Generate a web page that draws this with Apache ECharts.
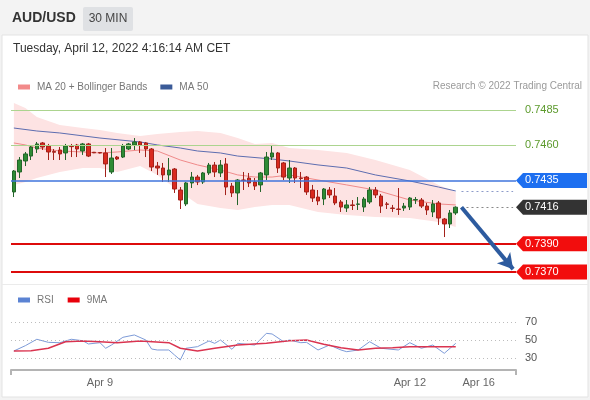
<!DOCTYPE html>
<html>
<head>
<meta charset="utf-8">
<script src="https://cdn.jsdelivr.net/npm/echarts@6/dist/echarts.min.js"></script>
<style>
  html, body { margin: 0; padding: 0; background: #f3f3f3; }
  #chart { width: 590px; height: 400px; }
</style>
</head>
<body>
<div id="chart"></div>
<script>
// 30 min candles: [open, close, low, high]
const candles = [
  [0.74268, 0.74417, 0.74232, 0.74424], [0.74410, 0.74495, 0.74367, 0.74516], [0.74488, 0.74538, 0.74452, 0.74552],
  [0.74523, 0.74587, 0.74495, 0.74601], [0.74573, 0.74609, 0.74545, 0.74623], [0.74616, 0.74587, 0.74566, 0.74623],
  [0.74594, 0.74552, 0.74495, 0.74609], [0.74556, 0.74550, 0.74495, 0.74573], [0.74566, 0.74538, 0.74495, 0.74587],
  [0.74545, 0.74594, 0.74495, 0.74609], [0.74594, 0.74590, 0.74516, 0.74609], [0.74601, 0.74573, 0.74516, 0.74609],
  [0.74559, 0.74609, 0.74531, 0.74616], [0.74609, 0.74523, 0.74516, 0.74616], [0.74550, 0.74546, 0.74544, 0.74552],
  [0.74548, 0.74545, 0.74542, 0.74550], [0.74545, 0.74467, 0.74374, 0.74580], [0.74410, 0.74509, 0.74396, 0.74580],
  [0.74516, 0.74502, 0.74495, 0.74523], [0.74516, 0.74594, 0.74509, 0.74609], [0.74573, 0.74609, 0.74566, 0.74616],
  [0.74601, 0.74623, 0.74566, 0.74651], [0.74623, 0.74601, 0.74545, 0.74630], [0.74616, 0.74573, 0.74516, 0.74623],
  [0.74573, 0.74445, 0.74417, 0.74580], [0.74452, 0.74438, 0.74389, 0.74481], [0.74438, 0.74389, 0.74339, 0.74474],
  [0.74389, 0.74424, 0.74339, 0.74509], [0.74431, 0.74289, 0.74261, 0.74438], [0.74282, 0.74211, 0.74147, 0.74303],
  [0.74183, 0.74332, 0.74168, 0.74339], [0.74332, 0.74374, 0.74296, 0.74410], [0.74374, 0.74339, 0.74317, 0.74389],
  [0.74339, 0.74403, 0.74325, 0.74410], [0.74403, 0.74459, 0.74389, 0.74474], [0.74459, 0.74410, 0.74374, 0.74481],
  [0.74403, 0.74459, 0.74374, 0.74495], [0.74467, 0.74303, 0.74246, 0.74509], [0.74310, 0.74261, 0.74232, 0.74332],
  [0.74261, 0.74353, 0.74175, 0.74360], [0.74353, 0.74350, 0.74282, 0.74410], [0.74367, 0.74332, 0.74303, 0.74403],
  [0.74339, 0.74310, 0.74282, 0.74367], [0.74318, 0.74403, 0.74268, 0.74410], [0.74389, 0.74516, 0.74353, 0.74552],
  [0.74516, 0.74545, 0.74495, 0.74601], [0.74545, 0.74438, 0.74403, 0.74552], [0.74474, 0.74374, 0.74353, 0.74481],
  [0.74367, 0.74438, 0.74332, 0.74495], [0.74438, 0.74367, 0.74332, 0.74445], [0.74367, 0.74364, 0.74296, 0.74410],
  [0.74374, 0.74268, 0.74247, 0.74381], [0.74282, 0.74225, 0.74197, 0.74318], [0.74232, 0.74204, 0.74175, 0.74282],
  [0.74218, 0.74289, 0.74175, 0.74296], [0.74282, 0.74247, 0.74225, 0.74303], [0.74239, 0.74190, 0.74175, 0.74296],
  [0.74197, 0.74161, 0.74126, 0.74211], [0.74154, 0.74176, 0.74126, 0.74211], [0.74176, 0.74172, 0.74140, 0.74211],
  [0.74180, 0.74183, 0.74140, 0.74232], [0.74161, 0.74218, 0.74126, 0.74232], [0.74197, 0.74282, 0.74183, 0.74303],
  [0.74282, 0.74247, 0.74225, 0.74303], [0.74239, 0.74168, 0.74119, 0.74254], [0.74183, 0.74180, 0.74147, 0.74197],
  [0.74154, 0.74151, 0.74126, 0.74176], [0.74147, 0.74144, 0.74105, 0.74296], [0.74154, 0.74168, 0.74133, 0.74190],
  [0.74161, 0.74225, 0.74140, 0.74232], [0.74211, 0.74214, 0.74183, 0.74232], [0.74211, 0.74168, 0.74154, 0.74225],
  [0.74168, 0.74140, 0.74105, 0.74190], [0.74126, 0.74183, 0.74090, 0.74211], [0.74190, 0.74083, 0.74034, 0.74204],
  [0.74076, 0.74041, 0.73948, 0.74083], [0.74041, 0.74119, 0.74012, 0.74140], [0.74119, 0.74160, 0.74105, 0.74166]
];

// bollinger bands + MA20, read at these candle indexes
const bandIdx   = [0, 2, 4, 8, 12, 15, 18, 22, 25, 29, 32, 36, 39, 42, 45, 48, 53, 58, 63, 69, 74, 77];
const bandUpper = [0.74900, 0.74864, 0.74800, 0.74744, 0.74722, 0.74708, 0.74687, 0.74665, 0.74680, 0.74694, 0.74701,
                   0.74687, 0.74651, 0.74609, 0.74616, 0.74580, 0.74566, 0.74545, 0.74495, 0.74424, 0.74318, 0.74268];
const bandLower = [0.74318, 0.74339, 0.74367, 0.74410, 0.74438, 0.74438, 0.74410, 0.74452, 0.74389, 0.74268, 0.74183,
                   0.74154, 0.74140, 0.74161, 0.74176, 0.74176, 0.74126, 0.74105, 0.74090, 0.74083, 0.74055, 0.74019];
const ma20      = [0.74616, 0.74602, 0.74580, 0.74559, 0.74552, 0.74545, 0.74552, 0.74566, 0.74559, 0.74495, 0.74460,
                   0.74424, 0.74389, 0.74374, 0.74374, 0.74389, 0.74353, 0.74318, 0.74282, 0.74211, 0.74183, 0.74176];

const ma50Idx = [0, 4, 8, 15, 22, 25, 29, 32, 36, 39, 45, 48, 53, 58, 63, 69, 74, 77];
const ma50    = [0.74722, 0.74701, 0.74687, 0.74651, 0.74623, 0.74602, 0.74580, 0.74559, 0.74545, 0.74523,
                 0.74502, 0.74488, 0.74460, 0.74438, 0.74389, 0.74346, 0.74303, 0.74275];

const rsiIdx = [0, 2, 4, 6, 8, 10, 12, 13, 15, 16, 17, 19, 21, 23, 24, 25, 27, 28, 29, 30, 32, 34, 35, 36, 38, 39,
                42, 44, 45, 47, 48, 50, 51, 53, 55, 57, 58, 60, 62, 64, 67, 69, 71, 73, 75, 77];
const rsi    = [37.8, 43.7, 50.8, 47.4, 47.0, 50.8, 49.2, 45.6, 47.0, 40.8, 44.4, 53.0, 55.6, 50.0, 40.0, 38.9, 38.9,
                33.3, 27.8, 40.8, 42.6, 48.9, 46.3, 50.0, 39.7, 46.3, 44.4, 57.4, 56.7, 48.1, 50.0, 47.0, 47.4, 38.9,
                44.4, 38.9, 37.0, 38.9, 48.1, 40.8, 38.9, 47.0, 40.8, 44.4, 35.2, 46.3];

const ma9Idx = [0, 3, 6, 9, 12, 15, 18, 22, 27, 29, 32, 35, 39, 44, 48, 51, 54, 57, 60, 63, 66, 69, 72, 77];
const ma9    = [37.8, 38.1, 40.8, 48.1, 48.9, 48.1, 47.0, 48.9, 47.0, 40.8, 37.8, 40.8, 44.4, 46.3, 49.2, 50.0,
                45.2, 41.4, 38.9, 40.8, 41.4, 42.6, 42.6, 42.6];

const priceLevels = [0.7485, 0.7460, 0.7435, 0.7416, 0.7390, 0.7370];
const levelKinds  = ['res', 'res', 'pivot', 'last', 'sup', 'sup'];
const rsiLevels = [70, 50, 30];
const target = 0.7372;

const tickLabels = { 15: 'Apr 9', 69: 'Apr 12', 81: 'Apr 16' };
const N = 88;
const categories = [];
for (let i = 0; i < N; i++) categories.push('t' + i);

const FONT = '"Liberation Sans", Arial, sans-serif';
const lastIdx = candles.length;
const lastPrice = priceLevels[3];

function pairs(idx, vals) { return idx.map((i, k) => [i, vals[k]]); }

const kindStyle = {
  res:   { line: '#acd48f', width: 1 },
  pivot: { line: '#3f74dc', width: 1.5 },
  sup:   { line: '#dd0b0b', width: 2 }
};

const levelLines = [];
priceLevels.forEach((v, k) => {
  const s = kindStyle[levelKinds[k]];
  if (s) levelLines.push({ yAxis: v, lineStyle: { color: s.line, width: s.width, type: 'solid' } });
});
// dotted from last candle to the right side
levelLines.push([
  { coord: [lastIdx, lastPrice], lineStyle: { color: '#888', type: [2, 3], width: 1 } },
  { coord: [N - 1, lastPrice] }
]);
levelLines.push([
  { coord: [lastIdx, ma50[ma50.length - 1]], lineStyle: { color: '#8d9bc9', type: [2, 3], width: 1 } },
  { coord: [N - 1, ma50[ma50.length - 1]] }
]);

const chart = echarts.init(document.getElementById('chart'));

const baseGraphic = [
  { type: 'rect', z: -10, shape: { x: 2, y: 35, width: 586, height: 362 },
    style: { fill: '#fff', stroke: '#e3e3e3', lineWidth: 1 } },
  { type: 'line', z: -9, shape: { x1: 2, y1: 284.5, x2: 588, y2: 284.5 }, style: { stroke: '#ebebeb', lineWidth: 1 } },
  { type: 'text', x: 12, y: 18, style: { text: 'AUD/USD', font: 'bold 14px ' + FONT, fill: '#333', textVerticalAlign: 'middle' } },
  { type: 'rect', shape: { x: 83, y: 7, width: 50, height: 24, r: 2 }, style: { fill: '#dfe1e4' } },
  { type: 'text', x: 108, y: 19, style: { text: '30 MIN', font: '12px ' + FONT, fill: '#444', textAlign: 'center', textVerticalAlign: 'middle' } },
  { type: 'text', x: 13, y: 49, style: { text: 'Tuesday, April 12, 2022 4:16:14 AM CET', font: '12px ' + FONT, fill: '#333', textVerticalAlign: 'middle' } },
  { type: 'text', x: 582, y: 86, style: { text: 'Research \u00a9 2022 Trading Central', font: '10px ' + FONT, fill: '#9a9a9a', textAlign: 'right', textVerticalAlign: 'middle' } },
  { type: 'line', shape: { x1: 11, y1: 370, x2: 11, y2: 375 }, style: { stroke: '#b4b4b4', lineWidth: 2 } },
  { type: 'line', shape: { x1: 516, y1: 370, x2: 516, y2: 375 }, style: { stroke: '#b4b4b4', lineWidth: 2 } }
];

const option = {
  animation: false,
  backgroundColor: '#f3f3f3',
  textStyle: { fontFamily: FONT },
  grid: [
    { left: 11, right: 74, top: 95, height: 185 },
    { left: 11, right: 74, top: 310.3, height: 59.4 }
  ],
  legend: [
    {
      left: 13, top: 77, icon: 'rect', itemWidth: 12, itemHeight: 5, itemGap: 13, selectedMode: false,
      textStyle: { color: '#777', fontSize: 10, padding: [0, 0, 0, 2] },
      data: [
        { name: 'MA 20 + Bollinger Bands', itemStyle: { color: '#f28a8a' } },
        { name: 'MA 50', itemStyle: { color: '#3b5b98' } }
      ]
    },
    {
      left: 13, top: 290, icon: 'rect', itemWidth: 12, itemHeight: 5, itemGap: 14, selectedMode: false,
      textStyle: { color: '#777', fontSize: 10, padding: [0, 0, 0, 2] },
      data: [
        { name: 'RSI', itemStyle: { color: '#5b83d3' } },
        { name: '9MA', itemStyle: { color: '#e8000b' } }
      ]
    }
  ],
  xAxis: [
    { type: 'category', gridIndex: 0, data: categories, show: false },
    {
      type: 'category', gridIndex: 1, data: categories,
      axisLine: { lineStyle: { color: '#b4b4b4', width: 2 } },
      axisTick: { show: false },
      splitLine: { show: false },
      axisLabel: {
        interval: (i) => tickLabels[i] !== undefined,
        formatter: (v, i) => tickLabels[i] || '',
        color: '#666', fontSize: 11, margin: 8
      }
    }
  ],
  yAxis: [
    { type: 'value', gridIndex: 0, min: 0.73643, max: 0.749565, show: false },
    { type: 'value', gridIndex: 1, min: 17, max: 83, show: false }
  ],
  series: [
    {
      name: 'bbLow', type: 'line', z: 1, stack: 'bb', data: pairs(bandIdx, bandLower),
      symbol: 'none', silent: true, lineStyle: { opacity: 0 }
    },
    {
      name: 'bbWidth', type: 'line', z: 1, stack: 'bb', data: pairs(bandIdx, bandUpper.map((u, k) => u - bandLower[k])),
      symbol: 'none', silent: true, lineStyle: { opacity: 0 },
      areaStyle: { color: '#fde3e3', opacity: 1 }
    },
    {
      name: 'MA 20 + Bollinger Bands', type: 'line', z: 2, data: pairs(bandIdx, ma20),
      symbol: 'none', color: '#f08a8a', lineStyle: { width: 1, color: '#f08a8a' }
    },
    {
      name: 'MA 50', type: 'line', z: 2, data: pairs(ma50Idx, ma50),
      symbol: 'none', color: '#5d6db0', lineStyle: { width: 1, color: '#5d6db0' },
      markLine: {
        silent: true, symbol: 'none', animation: false, precision: 5,
        label: { show: false },
        data: levelLines
      }
    },
    {
      type: 'candlestick', z: 4, data: candles, barWidth: 4,
      itemStyle: {
        color: '#2e8b34', color0: '#d92a1f',
        borderColor: '#24652a', borderColor0: '#a3211a', borderWidth: 1
      }
    },
    {
      name: 'forecast', type: 'line', z: 5, data: [[lastIdx, lastPrice], [N - 1, target]],
      symbol: 'none', lineStyle: { opacity: 0 },
      markLine: {
        silent: true, animation: false, label: { show: false }, precision: 5,
        symbol: ['none', 'arrow'], symbolSize: [13, 15],
        lineStyle: { color: '#2d5b9f', width: 4, type: 'solid' },
        data: [[{ coord: [lastIdx, lastPrice] }, { coord: [N - 1, target] }]]
      }
    },
    {
      name: 'RSI', type: 'line', xAxisIndex: 1, yAxisIndex: 1, data: pairs(rsiIdx, rsi),
      symbol: 'none', color: '#7d9bd8', lineStyle: { width: 1, color: '#7d9bd8' },
      markLine: {
        silent: true, symbol: 'none',
        lineStyle: { color: '#bdbdbd', type: [1, 3], width: 1 },
        label: { position: 'end', formatter: '{c}', color: '#555', fontSize: 11, distance: 9 },
        data: rsiLevels.map(v => ({ yAxis: v }))
      }
    },
    {
      name: '9MA', type: 'line', xAxisIndex: 1, yAxisIndex: 1, data: pairs(ma9Idx, ma9),
      symbol: 'none', color: '#da3450', lineStyle: { width: 1.5, color: '#da3450' }
    }
  ],
  graphic: baseGraphic
};

chart.setOption(option);

// price tags on the right, placed through the price axis
const tagFill = { pivot: '#1d6ff0', last: '#333333', sup: '#f20d0d' };
const tags = [];
priceLevels.forEach((v, k) => {
  const y = chart.convertToPixel({ gridIndex: 0 }, [0, v])[1];
  const kind = levelKinds[k];
  const label = v.toFixed(4);
  if (kind === 'res') {
    tags.push({ type: 'text', x: 525, y: y, style: { text: label, font: '11px ' + FONT, fill: '#5c9a2c', textVerticalAlign: 'middle' } });
  } else {
    tags.push({
      type: 'polygon',
      shape: { points: [[516, y], [523, y - 7.5], [587, y - 7.5], [587, y + 7.5], [523, y + 7.5]] },
      style: { fill: tagFill[kind] }
    });
    tags.push({ type: 'text', x: 525, y: y, style: { text: label, font: '11px ' + FONT, fill: '#fff', textVerticalAlign: 'middle' } });
  }
});

chart.setOption({ graphic: baseGraphic.concat(tags) });
</script>
</body>
</html>
